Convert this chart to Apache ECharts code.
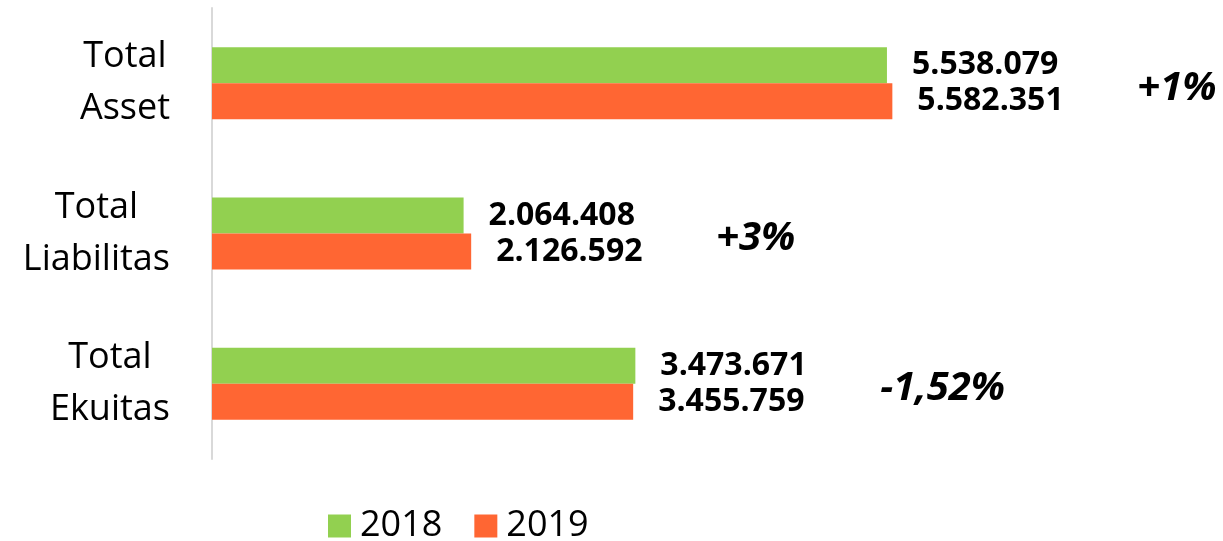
<!DOCTYPE html>
<html>
<head>
<meta charset="utf-8">
<script src="https://cdn.jsdelivr.net/npm/echarts@6/dist/echarts.min.js"></script>
<style>
  html, body { margin: 0; padding: 0; background: #fff; }
  #chart { width: 1223px; height: 541px; }
</style>
</head>
<body>
<div id="chart"></div>
<script>
// data
const categories = ['Total\nAsset', 'Total\nLiabilitas', 'Total\nEkuitas'];
const years = ['2018', '2019'];
const values2018 = [5538079, 2064408, 3473671];
const values2019 = [5582351, 2126592, 3455759];
const changes = ['+1%', '+3%', '-1,52%'];

const FONT = '"Open Sans", "Noto Sans", sans-serif';

// format 5538079 -> 5.538.079
function fmt(v) {
    return String(v).replace(/\B(?=(\d{3})+(?!\d))/g, '.');
}

const chart = echarts.init(document.getElementById('chart'));

const valueLabel = {
    show: true,
    position: 'right',
    distance: 25,
    fontFamily: FONT,
    fontWeight: 'bold',
    fontSize: 32,
    color: '#000',
    formatter: p => fmt(p.value)
};

const option = {
    animation: false,
    grid: {
        left: 212,
        top: 8,
        width: 975,
        height: 451
    },
    legend: {
        data: years,
        top: 503,
        left: 323,
        itemWidth: 23,
        itemHeight: 23,
        itemGap: 32,
        icon: 'rect',
        textStyle: { fontFamily: FONT, fontSize: 36, lineHeight: 36, color: '#000', padding: [0, 0, 0, 4] }
    },
    xAxis: {
        type: 'value',
        min: 0,
        max: 8000000,
        show: false,
        splitLine: { show: false }
    },
    yAxis: {
        type: 'category',
        data: categories,
        inverse: true,
        axisLine: { show: true, lineStyle: { color: '#d9d9d9', width: 2 } },
        axisTick: { show: false },
        axisLabel: {
            margin: 42,
            align: 'right',
            formatter: v => v.split('\n').map(s => '{c|' + s + '}').join('\n'),
            rich: {
                c: { align: 'center', fontFamily: FONT, fontSize: 36, lineHeight: 52, color: '#000' }
            }
        }
    },
    series: [
        {
            name: '2018',
            type: 'bar',
            data: values2018,
            barWidth: 36,
            barGap: '0%',
            itemStyle: { color: '#92D050' },
            label: valueLabel
        },
        {
            name: '2019',
            type: 'bar',
            data: values2019,
            barWidth: 36,
            itemStyle: { color: '#FF6633' },
            label: valueLabel
        },
        {
            // change annotations, placed after the longer bar of each group
            name: 'change',
            type: 'scatter',
            symbolSize: 0,
            silent: true,
            itemStyle: { opacity: 1 },
            data: values2018.map((v, i) => [Math.max(v, values2019[i]), i]),
            label: {
                show: true,
                position: 'right',
                offset: [240, 5],
                fontFamily: FONT,
                fontWeight: 'bold',
                fontStyle: 'italic',
                fontSize: 40,
                color: '#000',
                opacity: 1,
                formatter: p => changes[p.dataIndex]
            }
        }
    ]
};

chart.setOption(option);
</script>
</body>
</html>
